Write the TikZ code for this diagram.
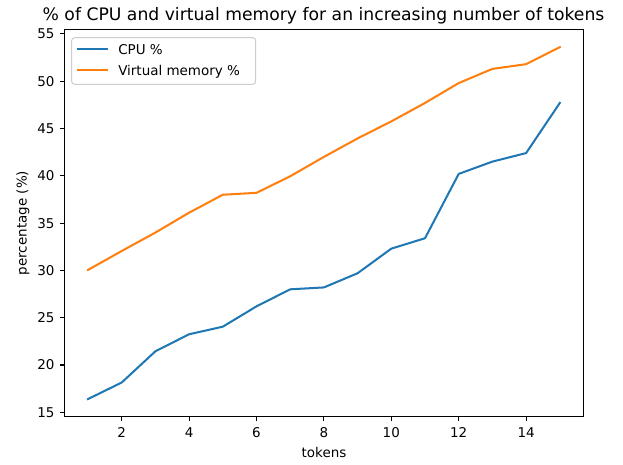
\documentclass[tikz,border=0pt]{standalone}
\usepackage{fontspec}
\setmainfont{DejaVu Sans}
\definecolor{cpuc}{HTML}{1F77B4}
\definecolor{memc}{HTML}{FF7F0E}
\definecolor{legedge}{HTML}{CCCCCC}
\begin{document}
\begin{tikzpicture}[x=0.75pt,y=0.75pt,
  ticklab/.style={font=\fontsize{10.1}{12}\selectfont, inner sep=0pt},
  series/.style={line width=1.52pt, line join=round, line cap=rect},
  spine/.style={line width=0.8pt, black}]
\useasboundingbox (0,0) rectangle (623,464);
\begin{scope}[shift={(40.725pt,-67.65pt)}, x=25.275pt, y=7.095pt]
  % data
  \draw[series, cpuc] (1,16.4) -- (2,18.15) -- (3,21.45) -- (4,23.25) -- (5,24.05) -- (6,26.2) -- (7,28.0) -- (8,28.2) -- (9,29.7) -- (10,32.3) -- (11,33.4) -- (12,40.2) -- (13,41.5) -- (14,42.4) -- (15,47.7);
  \draw[series, memc] (1,30.05) -- (2,32.05) -- (3,34.0) -- (4,36.1) -- (5,38.0) -- (6,38.2) -- (7,39.95) -- (8,42.0) -- (9,43.95) -- (10,45.75) -- (11,47.7) -- (12,49.8) -- (13,51.3) -- (14,51.8) -- (15,53.6);
  % frame
  \draw[spine] (0.3,14.54) rectangle (15.7,55.46);
  % y ticks
  \foreach \v in {15,20,...,55} {
    \draw[spine] (0.3,\v) -- ++(-3.5pt,0);
    \node[ticklab, anchor=base east] (yl\v) at ([xshift=-7.3pt,yshift=-3.7pt]0.3,\v) {\v};
  }
  % x ticks
  \foreach \t in {2,4,...,14} {
    \draw[spine] (\t,14.54) -- ++(0,-3.5pt);
    \node[ticklab, anchor=base] (xl\t) at ([yshift=-16pt]\t,14.54) {\t};
  }
\end{scope}
% axis labels and title
\node[ticklab, anchor=base] (xlab) at (324,7) {tokens};
\node[ticklab, anchor=center, rotate=90] (ylab) at (23,241) {percentage (\%)};
\node[inner sep=0pt, anchor=base, font=\fontsize{12.9}{15}\selectfont] (title) at (323.5,443) {\% of CPU and virtual memory for an increasing number of tokens};
% legend
\draw[legedge, fill=white, line width=0.75pt, rounded corners=2.2pt] (71.7,379.7) rectangle (255.7,426.3);
\coordinate (la1) at (77,415);
\coordinate (lb1) at (108,415);
\coordinate (la2) at (77,394);
\coordinate (lb2) at (108,394);
\draw[series, line cap=butt, cpuc] (la1) -- (lb1);
\draw[series, line cap=butt, memc] (la2) -- (lb2);
\node[ticklab, anchor=base west] (lt1) at (118,409.7) {CPU \%};
\node[ticklab, anchor=base west] (lt2) at (118,388.7) {Virtual memory \%};
\end{tikzpicture}
\end{document}
